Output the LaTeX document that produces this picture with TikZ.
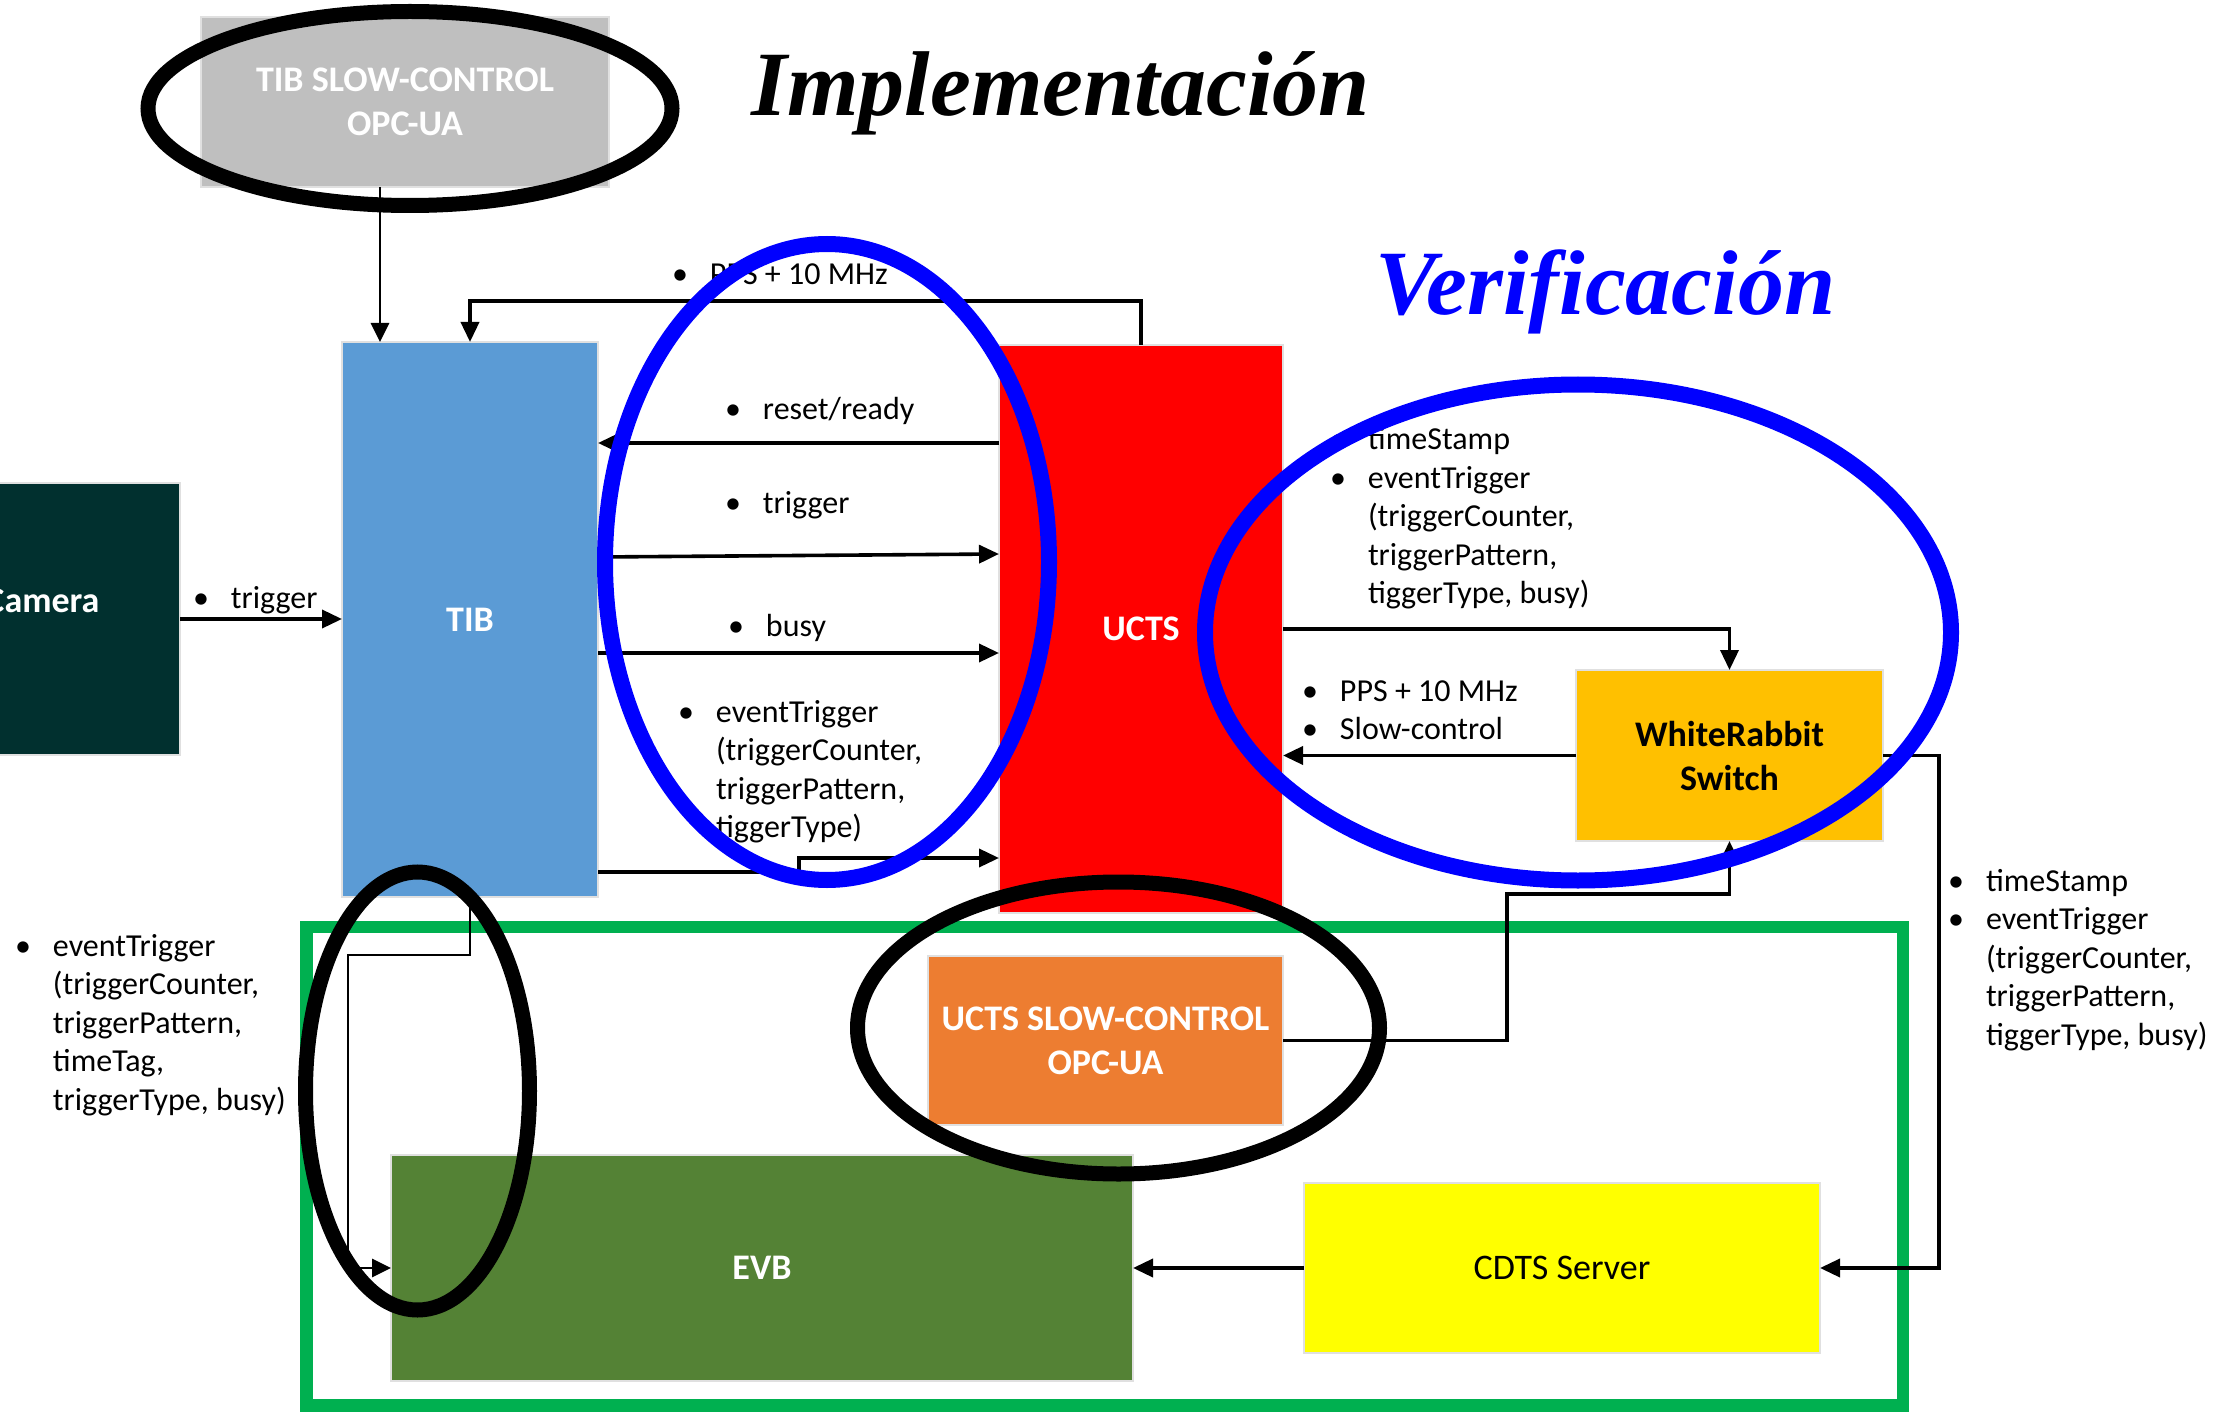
\documentclass[tikz,border=0pt]{standalone}
\usepackage{fontspec}
\setmainfont{Carlito}
\newfontfamily\titlefont{Liberation Serif}
\usetikzlibrary{arrows.meta,calc}
\definecolor{tibblue}{HTML}{5B9BD5}
\definecolor{camgreen}{HTML}{01302F}
\definecolor{wrgold}{HTML}{FFC000}
\definecolor{scorange}{HTML}{ED7D31}
\definecolor{evbgreen}{HTML}{548235}
\definecolor{frgreen}{HTML}{00B050}
\definecolor{scgray}{HTML}{BFBFBF}
\definecolor{ucred}{HTML}{FF0000}
\definecolor{cdyellow}{HTML}{FFFF00}
\newcommand\bul{\llap{\textbullet\hspace{11pt}}}
\begin{document}
\begin{tikzpicture}[x=0.5pt,y=-0.5pt,
  box/.style={rectangle, inner sep=0pt, outer sep=0pt, draw=black!12, line width=0.6pt,
    align=center, font=\fontsize{18pt}{22pt}\selectfont\bfseries, text=white},
  lbl/.style={inner sep=0pt, outer sep=0pt, anchor=base west, font=\fontsize{16pt}{19.25pt}\selectfont},
  conn/.style={line width=1.8pt, -{Triangle[length=10pt,width=9pt]}},
  thinconn/.style={line width=1.4pt, -{Triangle[length=9.5pt,width=9pt]}},
  ellk/.style={draw=black, line width=7.5pt},
  ellbl/.style={draw=blue, line width=8pt},
  titl/.style={inner sep=0pt, anchor=base west, font=\titlefont\bfseries\itshape\fontsize{46pt}{50pt}\selectfont}
]
\useasboundingbox (0,0) rectangle (2234,1412);
\fill[white] (0,0) rectangle (2234,1412);

% boxes
\node[box, fill=scgray, minimum width=204pt, minimum height=85pt] (tibsc) at (405,102) {TIB SLOW-CONTROL\\OPC-UA};
\node[box, fill=tibblue, minimum width=128pt, minimum height=277.5pt] (tib) at (470,619.5) {TIB};
\node[box, fill=camgreen, minimum width=137.5pt, minimum height=136pt] (cam) at (42.5,619) {};
\node[inner sep=0pt, font=\fontsize{18pt}{22pt}\selectfont\bfseries, text=white] (camtxt) at ($(cam.center)+(0,-18)$) {Camera};
\node[box, fill=ucred, minimum width=142pt, minimum height=284pt] (ucts) at (1141,629) {UCTS};
\node[box, fill=wrgold, text=black, minimum width=153.5pt, minimum height=85.5pt] (wr) at (1729.5,755.5) {WhiteRabbit\\Switch};
\node[box, fill=scorange, minimum width=177.5pt, minimum height=84.5pt] (uctssc) at (1105.5,1040.5) {UCTS SLOW-CONTROL\\OPC-UA};
\node[box, fill=evbgreen, minimum width=371pt, minimum height=113pt] (evb) at (762,1268) {EVB};
\node[box, fill=cdyellow, text=black, font=\fontsize{18pt}{22pt}\selectfont, minimum width=258pt, minimum height=85pt] (cdts) at (1562,1268) {CDTS Server};

% titles
\node[titl] (impl) at (751,116) {Implementación};
\node[titl, text=blue] (verif) at (1375,315) {Verificación};

% green frame
\draw[frgreen, line width=6.25pt] (306.5,927) rectangle (1903,1405.5);

% connectors
\draw[thinconn] ($(tibsc.south)+(-25,0)$) -- ($(tib.north)+(-90,0)$);
\draw[conn] (ucts.north) -- ++(0,-44) -| (tib.north);
\coordinate (rrA) at ($(ucts.north west)+(0,98)$);
\draw[conn] (rrA) -- (rrA -| tib.east);
\coordinate (trA) at ($(tib.north east)+(0,215)$);
\coordinate (trB) at ($(ucts.north west)+(0,209)$);
\draw[conn] (trA) -- (trB);
\coordinate (bsA) at ($(tib.north east)+(0,311)$);
\draw[conn] (bsA) -- (bsA -| ucts.west);
\coordinate (etA) at ($(tib.north east)+(0,530)$);
\coordinate (etB) at ($(ucts.north west)+(0,513)$);
\draw[conn] (etA) -- ++(201,0) |- (etB);
\draw[conn] (cam.east) -- (cam.east -| tib.west);
\draw[conn] (ucts.east) -| (wr.north);
\draw[conn] (wr.west) -- (wr.west -| ucts.east);
\draw[conn] (wr.east) -- ++(56,0) |- (cdts.east);
\draw[conn] (uctssc.east) -- ++(224,0) |- ($(wr.south)+(0,53)$) -- (wr.south);
\draw[conn] (cdts.west) -- (evb.east);
\draw[thinconn] (tib.south) -- ++(0,58) -| ($(evb.west)+(-43,0)$) -- (evb.west);

% labels
\node[lbl] (lpps) at (710,285) {\bul PPS + 10 MHz};
\node[lbl] (lreset) at (763,419) {\bul reset/ready};
\node[lbl] (ltrig) at (763,513) {\bul trigger};
\node[lbl] (lbusy) at (766,636) {\bul busy};
\node[lbl] (lev1) at (716,722) {\begin{tabular}[t]{@{}l@{}}\bul eventTrigger\\(triggerCounter,\\triggerPattern,\\tiggerType)\end{tabular}};
\node[lbl] (lcam) at (231,608) {\bul trigger};
\node[lbl] (lev2) at (1368,450) {\begin{tabular}[t]{@{}l@{}}\bul timeStamp\\\bul eventTrigger\\(triggerCounter,\\triggerPattern,\\tiggerType, busy)\end{tabular}};
\node[lbl] (lwr) at (1340,701) {\begin{tabular}[t]{@{}l@{}}\bul PPS + 10 MHz\\\bul Slow-control\end{tabular}};
\node[lbl] (lev3) at (1986,891) {\begin{tabular}[t]{@{}l@{}}\bul timeStamp\\\bul eventTrigger\\(triggerCounter,\\triggerPattern,\\tiggerType, busy)\end{tabular}};
\node[lbl] (lev4) at (53,956) {\begin{tabular}[t]{@{}l@{}}\bul eventTrigger\\(triggerCounter,\\triggerPattern,\\timeTag,\\triggerType, busy)\end{tabular}};

% highlight ellipses
\draw[ellk] (410,108.5) ellipse [x radius=131pt, y radius=48.5pt];
\draw[ellbl] (827,562) ellipse [x radius=111pt, y radius=159pt];
\draw[ellbl] (1578,632.5) ellipse [x radius=186.5pt, y radius=124pt];
\draw[ellk] (1118.5,1028) ellipse [x radius=130.5pt, y radius=73pt];
\draw[ellk] (417.5,1091) ellipse [x radius=56pt, y radius=109.5pt];
\end{tikzpicture}
\end{document}
